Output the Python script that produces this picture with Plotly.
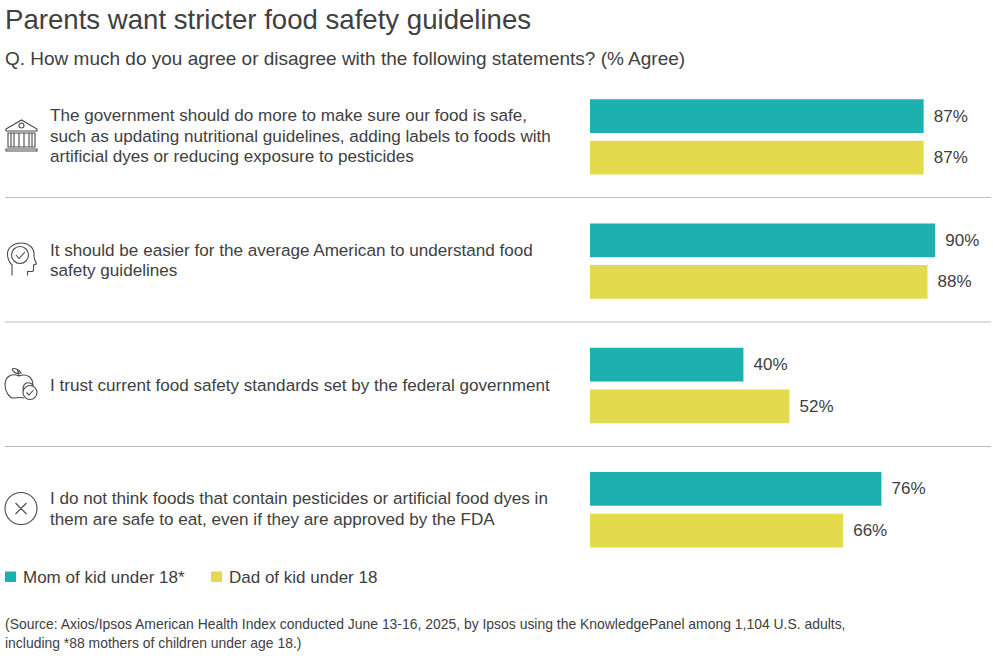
import plotly.graph_objects as go

TITLE = "Parents want stricter food safety guidelines"
SUBTITLE = "Q. How much do you agree or disagree with the following statements? (% Agree)"
statements = [
    ["The government should do more to make sure our food is safe,",
     "such as updating nutritional guidelines, adding labels to foods with",
     "artificial dyes or reducing exposure to pesticides"],
    ["It should be easier for the average American to understand food",
     "safety guidelines"],
    ["I trust current food safety standards set by the federal government"],
    ["I do not think foods that contain pesticides or artificial food dyes in",
     "them are safe to eat, even if they are approved by the FDA"],
]
categories = ["Government", "Easier", "Trust", "Pesticides"]
mom_values = [87, 90, 40, 76]
dad_values = [87, 88, 52, 66]
series_names = ["Mom of kid under 18*", "Dad of kid under 18"]
SOURCE_1 = "(Source: Axios/Ipsos American Health Index conducted June 13-16, 2025, by Ipsos using the KnowledgePanel among 1,104 U.S. adults,"
SOURCE_2 = "including *88 mothers of children under age 18.)"

TEAL, YELLOW, INK = "#1CB0AE", "#E3DA4E", "#404040"
FONT = "Liberation Sans"
W, H = 993, 656
TOP, STEP = 74.7, 124.3
LINE = 20.5

fig = go.Figure()
for name, vals, col in [(series_names[0], mom_values, TEAL), (series_names[1], dad_values, YELLOW)]:
    fig.add_bar(x=vals, y=categories, name=name, orientation="h", marker=dict(color=col, line_width=0),
                text=[f"\u2004\u200a{v}%" for v in vals], textposition="outside", cliponaxis=False,
                textfont=dict(family=FONT, size=17, color=INK), hoverinfo="skip", showlegend=False)

# invisible pixel-space axes for page furniture
fig.add_scatter(x=[0], y=[0], xaxis="x2", yaxis="y2", mode="markers", marker_opacity=0, showlegend=False, hoverinfo="skip")

def note(x, y, text, size, color=INK):
    fig.add_annotation(x=x, y=y, xref="x2", yref="y2", text=text, showarrow=False, xanchor="left", yanchor="middle",
                       align="left", font=dict(family=FONT, size=size, color=color), xshift=-2)

note(5, 19.5, TITLE, 27.6)
note(5, 58.5, SUBTITLE, 19)
for lines, cy in zip(statements, [136, 260.5, 385.5, 509]):
    for i, line in enumerate(lines):
        note(50, cy + (i - (len(lines) - 1) / 2) * LINE, line, 17.1)
note(5, 624, SOURCE_1, 13.93)
note(5, 643, SOURCE_2, 13.93)

# legend keys
for name, col, kx, tx in [(series_names[0], TEAL, 5, 23), (series_names[1], YELLOW, 211, 229)]:
    fig.add_shape(type="rect", xref="x2", yref="y2", x0=kx, x1=kx + 11, y0=571.5, y1=582, fillcolor=col, line_width=0)
    note(tx, 577, name, 17)

for y in [197.5, 322, 446.5]:
    fig.add_shape(type="line", xref="x2", yref="y2", x0=5, x1=991, y0=y, y1=y, line=dict(color="#BDBDBD", width=1))

def ring(cx, cy, r):
    k = 0.5523 * r
    return (f"M{cx - r},{cy} C{cx - r},{cy - k} {cx - k},{cy - r} {cx},{cy - r} "
            f"C{cx + k},{cy - r} {cx + r},{cy - k} {cx + r},{cy} "
            f"C{cx + r},{cy + k} {cx + k},{cy + r} {cx},{cy + r} "
            f"C{cx - k},{cy + r} {cx - r},{cy + k} {cx - r},{cy} Z ")

ICON = dict(type="path", xref="x2", yref="y2", line=dict(color="#4A4A4A", width=1.1))
icon_paths = [
    # bank
    "M6,129 L21.5,120 L37,129 L37,131 L6,131 Z M8,133 H35 V147 H8 Z M6,149 H37 V151 H6 Z "
    "M11,133 V147 M14,133 V147 M19,133 V147 M24,133 V147 M29,133 V147 M32,133 V147 " + ring(21.5, 125.5, 2.5),
    # head with check
    "M12,275.5 V265 C9,262 7.5,258 7.5,254 C7.5,247 14,243 21,243 C29,243 34,248 34,254 C34,256 34,258 34.5,259 "
    "L36.5,264 L33.5,265 V270 C33.5,271 32,271.5 31,271.5 H27.5 V275.5 " + ring(20, 255, 8.5) + "M16,255 L19,258.5 L25,252",
    # apple with check
    "M23,390 C23,379 33,383 33,386 C33,377 27,373 19,376 C12,373 5,376 5,385 C5,392 10,398.5 14,398 C17,397.5 20,397 24,398 "
    "M19,376 C19,373 18,371 17,369 M12,369 C15,367.5 19,370 21,373 C17,374 13.5,373 12,369 "
    + ring(30, 392.5, 7) + "M26.5,392.5 L29,395 L33.5,390",
    # crossed circle
    ring(21, 508.5, 16) + "M15.5,503 L26.5,514 M26.5,503 L15.5,514",
]
for p in icon_paths:
    fig.add_shape(path=p, **ICON)

fig.update_layout(
    width=W, height=H, margin=dict(l=0, r=0, t=0, b=0, autoexpand=False), autosize=False, showlegend=False,
    paper_bgcolor="white", plot_bgcolor="rgba(0,0,0,0)", barmode="group", bargap=0.33, bargroupgap=0.19,
    font=dict(family=FONT, color=INK),
    xaxis=dict(domain=[590 / W, 1], range=[0, 403 / 3.835], visible=False),
    yaxis=dict(domain=[1 - (TOP + 4 * STEP) / H, 1 - TOP / H], range=[3.5, -0.5], visible=False, type="category",
               categoryorder="array", categoryarray=categories),
    xaxis2=dict(domain=[0, 1], range=[0, W], visible=False, anchor="y2"),
    yaxis2=dict(domain=[0, 1], range=[H, 0], visible=False, anchor="x2"),
)
fig.write_html("out.html", config={"displayModeBar": False, "responsive": False},
               post_script="document.body.style.margin='0';document.documentElement.style.overflow='hidden';")
